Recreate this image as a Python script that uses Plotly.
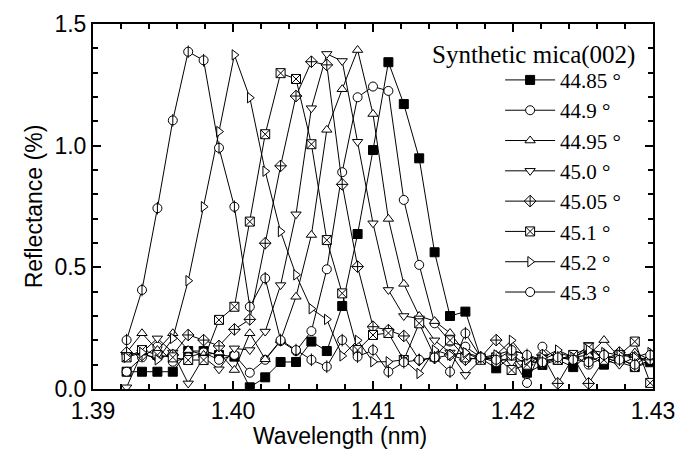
import plotly.graph_objects as go

wavelength = [1.3924, 1.3935, 1.3946, 1.3957, 1.3968, 1.3979, 1.3990, 1.4001, 1.4012, 1.4023,
              1.4034, 1.4045, 1.4056, 1.4067, 1.4078, 1.4089, 1.4100, 1.4111, 1.4122, 1.4133,
              1.4144, 1.4155, 1.4166, 1.4177, 1.4188, 1.4199, 1.4210, 1.4221, 1.4232, 1.4243,
              1.4254, 1.4265, 1.4276, 1.4287, 1.4298]

r_4485 = [0.071, 0.071, 0.071, 0.071, 0.156, 0.156, 0.14, 0.133, 0.007, 0.048,
          0.111, 0.111, 0.195, 0.156, 0.341, 0.637, 0.982, 1.343, 1.171, 0.948,
          0.562, 0.300, 0.318, 0.126, 0.085, 0.133, 0.067, 0.099, 0.12, 0.09,
          0.14, 0.10, 0.13, 0.09, 0.11]
r_449 = [0.071, 0.13, 0.174, 0.112, 0.13, 0.15, 0.12, 0.14, 0.067, 0.12,
         0.197, 0.156, 0.238, 0.492, 0.891, 1.199, 1.243, 1.225, 0.777, 0.510,
         0.27, 0.195, 0.174, 0.13, 0.11, 0.13, 0.025, 0.174, 0.12, 0.14,
         0.10, 0.13, 0.11, 0.09, 0.12]
r_4495 = [0.15, 0.229, 0.16, 0.229, 0.16, 0.14, 0.15, 0.078, 0.229, 0.122,
          0.20, 0.379, 0.633, 1.065, 1.232, 1.393, 1.130, 0.699, 0.432, 0.30,
          0.279, 0.23, 0.15, 0.12, 0.14, 0.16, 0.14, 0.12, 0.15, 0.13,
          0.14, 0.201, 0.13, 0.15, 0.12]
r_450 = [0.007, 0.15, 0.208, 0.15, 0.023, 0.13, 0.081, 0.167, 0.16, 0.236,
         0.427, 0.718, 1.154, 1.377, 1.348, 1.016, 0.681, 0.407, 0.300, 0.29,
         0.20, 0.15, 0.058, 0.12, 0.13, 0.11, 0.12, 0.10, 0.13, 0.12,
         0.181, 0.12, 0.10, 0.13, 0.11]
r_4505 = [0.15, 0.14, 0.13, 0.14, 0.222, 0.201, 0.177, 0.245, 0.286, 0.599,
          0.917, 1.204, 1.345, 1.332, 0.841, 0.503, 0.256, 0.242, 0.218, 0.119,
          0.127, 0.14, 0.12, 0.13, 0.201, 0.14, 0.10, 0.14, 0.023, 0.13,
          0.023, 0.12, 0.15, 0.13, 0.12]
r_451 = [0.13, 0.16, 0.14, 0.13, 0.119, 0.119, 0.284, 0.338, 0.688, 1.047,
         1.298, 1.274, 1.006, 0.612, 0.393, 0.160, 0.222, 0.23, 0.119, 0.27,
         0.133, 0.20, 0.13, 0.12, 0.13, 0.078, 0.10, 0.12, 0.12, 0.14,
         0.17, 0.12, 0.14, 0.195, 0.025]
r_452 = [0.13, 0.15, 0.12, 0.208, 0.445, 0.749, 1.058, 1.373, 1.197, 0.895,
         0.647, 0.469, 0.33, 0.286, 0.136, 0.20, 0.112, 0.112, 0.12, 0.064,
         0.16, 0.14, 0.15, 0.13, 0.14, 0.20, 0.12, 0.13, 0.16, 0.13,
         0.16, 0.15, 0.14, 0.13, 0.15]
r_453 = [0.201, 0.407, 0.743, 1.104, 1.386, 1.351, 0.991, 0.749, 0.338, 0.455,
         0.201, 0.16, 0.12, 0.092, 0.201, 0.133, 0.160, 0.071, 0.11, 0.12,
         0.13, 0.071, 0.229, 0.13, 0.12, 0.16, 0.14, 0.11, 0.13, 0.12,
         0.11, 0.14, 0.12, 0.10, 0.14]

series_names = ["44.85 °", "44.9 °", "44.95 °", "45.0 °", "45.05 °", "45.1 °", "45.2 °", "45.3 °"]
series_values = [r_4485, r_449, r_4495, r_450, r_4505, r_451, r_452, r_453]
symbols = ["square", "circle", "triangle-up", "triangle-down", "diamond-cross", "square-x",
           "triangle-right", "circle"]
fills = ["black", "white", "white", "white", "white", "white", "white", "white"]

fig = go.Figure()
for name, vals, sym, fc in zip(series_names, series_values, symbols, fills):
    fig.add_trace(go.Scatter(
        x=wavelength, y=vals, mode="lines+markers", name=name, legendgroup=name,
        line=dict(color="black", width=1),
        marker=dict(symbol=sym, size=9, color=fc, line=dict(color="black", width=1)),
    ))
# vertical bar inside the 45.3 markers
fig.add_trace(go.Scatter(
    x=wavelength, y=r_453, mode="markers", showlegend=False, legendgroup=series_names[-1],
    marker=dict(symbol="line-ns-open", size=9, color="black", line=dict(color="black", width=1)),
))

axis_font = dict(family="Liberation Sans, Arial", size=23, color="black")
fig.update_xaxes(
    range=[1.39, 1.43], tick0=1.39, dtick=0.01, tickformat=".2f",
    ticks="inside", ticklen=8, tickwidth=1.5, tickcolor="black",
    minor=dict(tick0=1.39, dtick=0.002, ticks="inside", ticklen=5, tickwidth=1.5, tickcolor="black"),
    showline=True, linewidth=2, linecolor="black", mirror="allticks",
    showgrid=False, zeroline=False, tickfont=axis_font,
)
fig.update_yaxes(
    range=[0, 1.5], tick0=0, dtick=0.5, tickformat=".1f",
    ticks="inside", ticklen=8, tickwidth=1.5, tickcolor="black",
    minor=dict(tick0=0, dtick=0.1, ticks="inside", ticklen=5, tickwidth=1.5, tickcolor="black"),
    showline=True, linewidth=2, linecolor="black", mirror="allticks",
    showgrid=False, zeroline=False, tickfont=axis_font,
    title=dict(text="Reflectance (%)", font=axis_font, standoff=5),
)
fig.update_layout(
    width=681, height=452,
    margin=dict(l=93, r=28, t=24, b=63, autoexpand=False),
    plot_bgcolor="white", paper_bgcolor="white",
    showlegend=True,
    legend=dict(x=0.727, y=0.902, xanchor="left", yanchor="top",
                font=dict(family="Liberation Serif, Times New Roman", size=21, color="black"),
                itemwidth=50, bgcolor="rgba(0,0,0,0)", tracegroupgap=0),
    annotations=[
        dict(text="Synthetic mica(002)", xref="paper", yref="paper", x=0.786, y=0.915,
             xanchor="center", yanchor="middle", showarrow=False,
             font=dict(family="Liberation Serif, Times New Roman", size=25, color="black")),
        dict(text="Wavelength (nm)", xref="paper", yref="paper", x=0.441, y=-0.130,
             xanchor="center", yanchor="middle", showarrow=False, font=axis_font),
    ],
)
fig.write_html("out.html")
